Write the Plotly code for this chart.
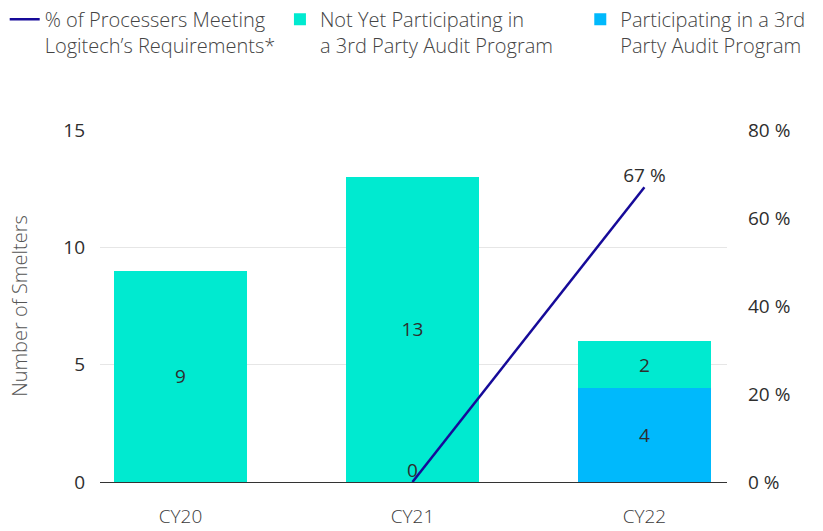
import plotly.graph_objects as go

years = ["CY20", "CY21", "CY22"]
not_yet = [9, 13, 2]
participating = [None, None, 4]
pct_meeting = [None, 0, 67]
pct_labels = ["", "0", "67 %"]

GREEN = "#00EAD0"
BLUE = "#00B9FC"
NAVY = "#160A99"
FONT = "Open Sans"
DARK = "#2E2E2E"

fig = go.Figure()

fig.add_trace(go.Scatter(
    x=years, y=pct_meeting, yaxis="y2", mode="lines+text",
    name="% of Processers Meeting<br>Logitech’s Requirements*",
    line=dict(color=NAVY, width=2.5),
    text=pct_labels, textposition="top center",
    textfont=dict(family=FONT, size=19, color=DARK),
    legend="legend", cliponaxis=False, showlegend=True,
))
fig.add_trace(go.Bar(
    x=years, y=participating, name="Participating in a 3rd<br>Party Audit Program",
    marker=dict(color=BLUE, line=dict(width=0)),
    text=participating, textposition="inside", insidetextanchor="middle",
    textfont=dict(family=FONT, size=19, color=DARK),
    legend="legend3",
))
fig.add_trace(go.Bar(
    x=years, y=not_yet, name="Not Yet Participating in<br>a 3rd Party Audit Program",
    marker=dict(color=GREEN, line=dict(width=0)),
    text=not_yet, textposition="inside", insidetextanchor="middle",
    textfont=dict(family=FONT, size=19, color=DARK),
    legend="legend2",
))

legend_style = dict(
    orientation="h", yanchor="top", xanchor="left", y=1.37,
    font=dict(family=FONT, size=20, color="#444444", weight=300),
    valign="top", bgcolor="rgba(0,0,0,0)", visible=True,
)

fig.update_layout(
    width=823, height=531,
    margin=dict(l=100, r=96, t=130, b=49, autoexpand=False),
    paper_bgcolor="white", plot_bgcolor="white",
    barmode="stack", bargap=0.427, showlegend=True,
    font=dict(family=FONT, color=DARK),
    legend=dict(x=-0.152, **legend_style),
    legend2=dict(x=0.287, **legend_style),
    legend3=dict(x=0.766, **legend_style),
    xaxis=dict(
        range=[-0.347, 2.356], showline=True, linecolor="#333333", linewidth=1,
        showgrid=False, ticks="", ticklabelstandoff=17, automargin=False,
        tickfont=dict(family=FONT, size=19, color="#3A3A3A", weight=300),
    ),
    yaxis=dict(
        range=[0, 15], dtick=5, showgrid=True, gridcolor="#E6E6E6", gridwidth=1,
        zeroline=False, ticks="", ticklabelstandoff=14, automargin=False,
        tickfont=dict(family=FONT, size=19, color=DARK, weight=500),
        title=dict(text="Number of Smelters", standoff=30,
                   font=dict(family=FONT, size=20, color="#555555", weight=300)),
    ),
    yaxis2=dict(
        range=[0, 80], dtick=20, overlaying="y", side="right", showgrid=False,
        zeroline=False, ticks="", ticksuffix=" %", ticklabelstandoff=20,
        automargin=False,
        tickfont=dict(family=FONT, size=19, color=DARK, weight=500),
    ),
)

fig.write_html("out.html")
